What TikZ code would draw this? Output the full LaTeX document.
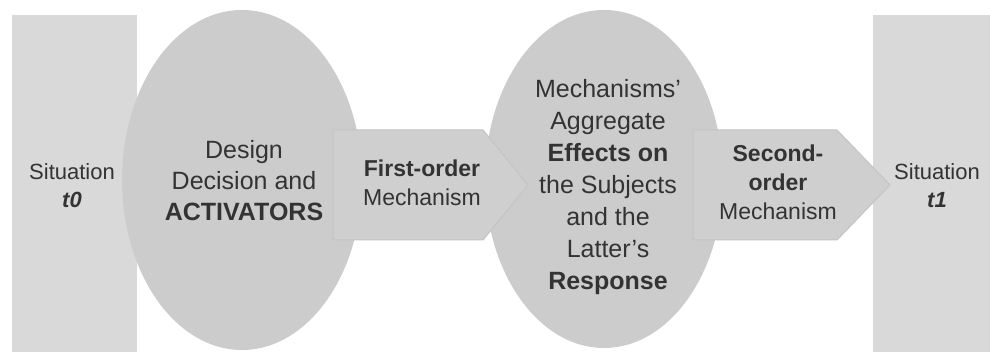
\documentclass[tikz,border=0pt]{standalone}
\usepackage{fontspec}
\setmainfont{Liberation Sans}
\definecolor{boxgray}{HTML}{D9D9D9}
\definecolor{ovalgray}{HTML}{CCCCCC}
\definecolor{arrowgray}{HTML}{CFCFCF}
\definecolor{edgegray}{HTML}{C4C4C4}
\definecolor{textgray}{HTML}{333333}
\tikzset{
  sittext/.style={text=textgray, align=center, font=\fontsize{22}{28}\selectfont},
  ovaltext/.style={text=textgray, align=center, font=\fontsize{25}{31}\selectfont},
  mechtext/.style={text=textgray, align=center, font=\fontsize{23}{29}\selectfont},
  mecharrow/.style={draw=edgegray, fill=arrowgray, line width=1pt}
}

\begin{document}
\begin{tikzpicture}[x=1pt,y=-1pt]
\useasboundingbox (0,0) rectangle (990,352);
% Situations before and after

  \fill[boxgray] (12,15) rectangle (137,352);
  \fill[boxgray] (873,15) rectangle (990,352);

% The two ovals

  \fill[ovalgray] (242,180) ellipse (120 and 170);
  \fill[ovalgray] (604,179) ellipse (119 and 169);

% Mechanisms as arrows

  \draw[mecharrow] (333,130) -- (483,130) -- (528,185) -- (483,240) -- (333,240) -- cycle;
  \draw[mecharrow] (693,130) -- (837,130) -- (890,185) -- (837,240) -- (693,240) -- cycle;

% Labels

  \node[sittext] (sit0) at (72,186) {Situation\\\textbf{\textit{t0}}};
  \node[ovaltext] (design) at (244,181) {Design\\Decision and\\\textbf{ACTIVATORS}};
  \node[mechtext] (first) at (422,183) {\textbf{First-order}\\Mechanism};
  \node[ovaltext, font=\fontsize{25}{32}\selectfont] (effects) at (608,187)
    {Mechanisms'\\Aggregate\\\textbf{Effects on}\\the Subjects\\and the\\Latter's\\\textbf{Response}};
  \node[mechtext] (second) at (778,182) {\textbf{Second-}\\\textbf{order}\\Mechanism};
  \node[sittext] (sit1) at (937,186) {Situation\\\textbf{\textit{t1}}};
\end{tikzpicture}
\end{document}
